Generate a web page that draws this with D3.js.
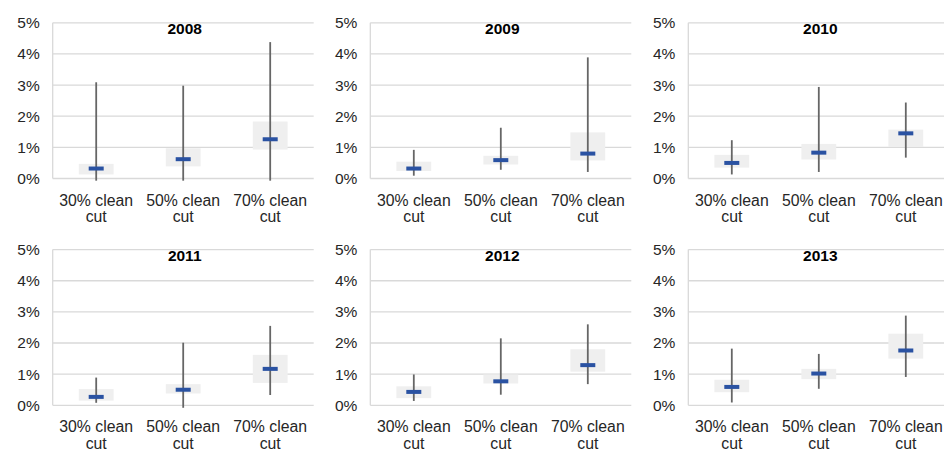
<!DOCTYPE html>
<html>
<head>
<meta charset="utf-8">
<script src="https://cdn.jsdelivr.net/npm/d3@7"></script>
<style>
  html, body { margin: 0; padding: 0; background: #ffffff; }
  svg { display: block; }
</style>
</head>
<body>
<svg id="chart" width="944" height="451"></svg>
<script>
// ---- Data (values in %) ----
const years = ["2008", "2009", "2010", "2011", "2012", "2013"];
const categories = ["30% clean cut", "50% clean cut", "70% clean cut"];
const yTicks = [0, 1, 2, 3, 4, 5];

const meanValues = [
  [0.32, 0.62, 1.26],
  [0.32, 0.59, 0.80],
  [0.50, 0.83, 1.45],
  [0.27, 0.50, 1.17],
  [0.43, 0.77, 1.29],
  [0.59, 1.02, 1.76]
];
const boxLow = [
  [0.13, 0.39, 0.93],
  [0.24, 0.45, 0.58],
  [0.35, 0.61, 1.01],
  [0.15, 0.38, 0.72],
  [0.23, 0.70, 1.08],
  [0.42, 0.84, 1.50]
];
const boxHigh = [
  [0.47, 0.97, 1.83],
  [0.54, 0.73, 1.48],
  [0.76, 1.11, 1.57],
  [0.52, 0.68, 1.62],
  [0.61, 0.99, 1.80],
  [0.82, 1.17, 2.30]
];
const whiskerLow = [
  [-0.07, -0.07, -0.07],
  [0.09, 0.28, 0.21],
  [0.13, 0.21, 0.67],
  [0.08, -0.08, 0.33],
  [0.14, 0.34, 0.68],
  [0.09, 0.53, 0.91]
];
const whiskerHigh = [
  [3.09, 2.98, 4.38],
  [0.92, 1.63, 3.89],
  [1.23, 2.94, 2.44],
  [0.89, 2.01, 2.55],
  [0.99, 2.15, 2.60],
  [1.82, 1.65, 2.88]
];

// ---- Layout ----
const svg = d3.select("#chart");
const font = "Arial, 'Liberation Sans', Helvetica, sans-serif";
const plotW = 261, plotH = 155.7;
const colX = [52.7, 370.3, 688.3];
const rowY = [22.8, 249.6];

years.forEach((year, i) => {
  const x0 = colX[i % 3];
  const y0 = rowY[Math.floor(i / 3)];
  const g = svg.append("g");

  const x = d3.scaleBand().domain(categories).range([x0, x0 + plotW]);
  const y = d3.scaleLinear().domain([0, 5]).range([y0 + plotH, y0]);

  // gridlines
  g.selectAll("line.grid").data(yTicks).join("line")
    .attr("x1", x0).attr("x2", x0 + plotW)
    .attr("y1", d => y(d)).attr("y2", d => y(d))
    .attr("stroke", "#d9d9d9").attr("stroke-width", 1.3);
  // left axis line
  g.append("line")
    .attr("x1", x0).attr("x2", x0)
    .attr("y1", y(0)).attr("y2", y(5))
    .attr("stroke", "#d9d9d9").attr("stroke-width", 1.3);

  // y axis labels
  const ax = d3.axisLeft(y).tickValues(yTicks).tickSize(0).tickPadding(13)
    .tickFormat(d => d + "%");
  const axG = g.append("g").attr("transform", `translate(${x0},0)`).call(ax);
  axG.select(".domain").remove();
  axG.selectAll("text")
    .attr("font-family", font).attr("font-size", 15.5).attr("fill", "#262626");

  // category labels (two lines)
  categories.forEach(c => {
    const parts = c.split(" ");
    const t = g.append("text")
      .attr("x", x(c) + x.bandwidth() / 2)
      .attr("y", y(0) + 27)
      .attr("text-anchor", "middle")
      .attr("font-family", font).attr("font-size", 15.8).attr("fill", "#262626");
    t.append("tspan").attr("x", x(c) + x.bandwidth() / 2).text(parts[0] + " " + parts[1]);
    t.append("tspan").attr("x", x(c) + x.bandwidth() / 2).attr("dy", 16.5).text(parts[2]);
  });

  // title
  g.append("text")
    .attr("x", x0 + plotW / 2 + 1.5)
    .attr("y", y0 + 11)
    .attr("text-anchor", "middle")
    .attr("font-family", font).attr("font-size", 15.5).attr("font-weight", "bold")
    .attr("fill", "#000").text(year);

  const boxW = x.bandwidth() * 0.4;
  const meanW = 15;
  const rows = categories.map((c, j) => ({
    c, mean: meanValues[i][j], lo: boxLow[i][j], hi: boxHigh[i][j],
    wlo: whiskerLow[i][j], whi: whiskerHigh[i][j]
  }));
  const cx = d => x(d.c) + x.bandwidth() / 2;

  // boxes
  g.selectAll("rect.box").data(rows).join("rect")
    .attr("x", d => cx(d) - boxW / 2)
    .attr("width", boxW)
    .attr("y", d => y(d.hi))
    .attr("height", d => y(d.lo) - y(d.hi))
    .attr("fill", "#efefef");
  // whiskers
  g.selectAll("line.wh").data(rows).join("line")
    .attr("x1", cx).attr("x2", cx)
    .attr("y1", d => y(d.wlo)).attr("y2", d => y(d.whi))
    .attr("stroke", "#666666").attr("stroke-width", 1.8);
  // mean markers
  g.selectAll("rect.mean").data(rows).join("rect")
    .attr("x", d => cx(d) - meanW / 2)
    .attr("width", meanW)
    .attr("y", d => y(d.mean) - 2)
    .attr("height", 4)
    .attr("fill", "#2a52a2");
});
</script>
</body>
</html>
